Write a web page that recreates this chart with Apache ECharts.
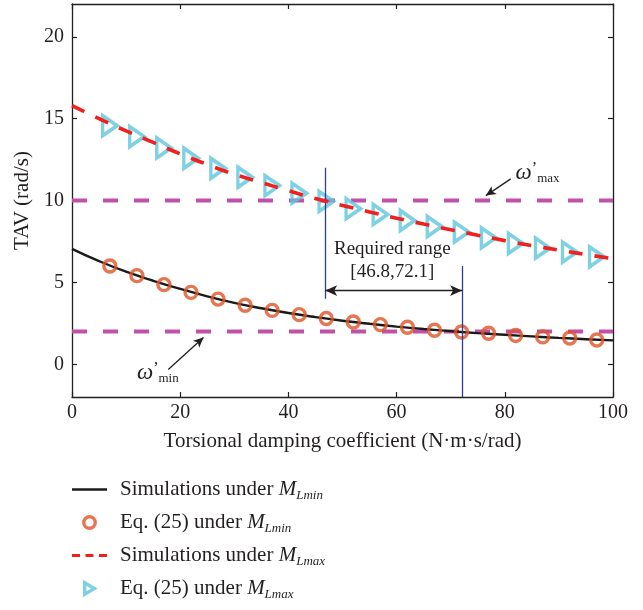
<!DOCTYPE html>
<html>
<head>
<meta charset="utf-8">
<script src="https://cdn.jsdelivr.net/npm/echarts@6/dist/echarts.min.js"></script>
<style>
  html, body { margin: 0; padding: 0; background: #ffffff; }
  #chart { width: 643px; height: 610px; }
</style>
</head>
<body>
<div id="chart"></div>
<script>
// Torsional damping coefficient samples for the simulated curves
const curveK = [0, 5, 10, 15, 20, 25, 30, 35, 40, 45, 50, 55, 60, 65, 70, 75, 80, 85, 90, 95, 100];
// Simulated TAV under M_Lmin (rad/s)
const simMin = [7.05, 6.3, 5.65, 5.1, 4.6, 4.15, 3.75, 3.42, 3.13, 2.88, 2.66, 2.47, 2.3, 2.15, 2.02, 1.9, 1.8, 1.7, 1.61, 1.53, 1.46];
// Simulated TAV under M_Lmax (rad/s)
const simMax = [15.8, 15.0, 14.25, 13.55, 12.85, 12.2, 11.6, 11.1, 10.6, 10.12, 9.7, 9.3, 8.92, 8.56, 8.22, 7.88, 7.55, 7.25, 6.97, 6.7, 6.45];

// Damping coefficients where Eq. (25) is evaluated
const eqK = [7, 12, 17, 22, 27, 32, 37, 42, 47, 52, 57, 62, 67, 72, 77, 82, 87, 92, 97];
const eqMin = [6.0, 5.41, 4.86, 4.39, 3.98, 3.6, 3.29, 3.03, 2.79, 2.58, 2.42, 2.26, 2.08, 1.97, 1.89, 1.76, 1.67, 1.6, 1.48];
const eqMax = [14.57, 13.9, 13.21, 12.58, 11.97, 11.42, 10.91, 10.45, 9.95, 9.5, 9.15, 8.78, 8.41, 8.07, 7.72, 7.38, 7.09, 6.85, 6.56];

// Speed limits and the resulting damping range
const omegaMax = 10;
const omegaMin = 2;
const requiredRange = [46.8, 72.1];

// Axis ticks
const xTicks = [0, 20, 40, 60, 80, 100];
const yTicks = [0, 5, 10, 15, 20];

const FONT = 'Liberation Serif';
const INK = '#231f20';
const C_BLACK = '#1a1a1a';
const C_ORANGE = '#e05426';
const C_RED = '#f0201e';
const C_CYAN = '#5ec5dc';
const C_MAGENTA = '#c050a8';
const C_BLUE = '#2b3c9c';

const pairs = (xs, ys) => xs.map((x, i) => [x, ys[i]]);

const legendNames = {
  simMin: 'Simulations under M_Lmin',
  eqMin: 'Eq. (25) under M_Lmin',
  simMax: 'Simulations under M_Lmax',
  eqMax: 'Eq. (25) under M_Lmax'
};
const legendParts = {
  [legendNames.simMin]: ['Simulations under ', 'Lmin'],
  [legendNames.eqMin]: ['Eq. (25) under ', 'Lmin'],
  [legendNames.simMax]: ['Simulations under ', 'Lmax'],
  [legendNames.eqMax]: ['Eq. (25) under ', 'Lmax']
};

// Right-pointing triangle marker and legend line icons
const triPath = 'path://M0,0L17,10L0,20Z';
const solidIcon = 'path://M0,0H35V2.4H0Z';
const dashIcon = 'path://M0,0H8V3H0Z M13.5,0H21.5V3H13.5Z M27,0H35V3H27Z';
const clear = 'rgba(255,255,255,0)';

const chart = echarts.init(document.getElementById('chart'), null, { renderer: 'canvas' });

const omegaRich = {
  w: { fontFamily: FONT, fontStyle: 'italic', fontSize: 23, lineHeight: 24, color: INK },
  p: { fontFamily: FONT, fontSize: 16, lineHeight: 12, verticalAlign: 'top', color: INK },
  s: { fontFamily: FONT, fontSize: 13, lineHeight: 13, verticalAlign: 'bottom', color: INK }
};

const axisBase = {
  type: 'value',
  axisLine: { show: true, onZero: false, lineStyle: { color: INK, width: 1.3 } },
  axisTick: { show: true, inside: true, length: 5, lineStyle: { color: INK, width: 1.2 } },
  splitLine: { show: false }
};

chart.setOption({
  animation: false,
  backgroundColor: '#ffffff',
  grid: { left: 72, right: 30, top: 4, height: 393, containLabel: false },
  xAxis: [
    Object.assign({}, axisBase, {
      position: 'bottom',
      min: 0, max: 100, interval: 20,
      name: 'Torsional damping coefficient (N·m·s/rad)',
      nameLocation: 'middle',
      nameGap: 34,
      nameTextStyle: { fontFamily: FONT, fontSize: 21, color: INK },
      axisLabel: { show: true, margin: 6, fontFamily: FONT, fontSize: 20, color: INK,
                   customValues: xTicks },
      axisTick: Object.assign({}, axisBase.axisTick, { customValues: xTicks })
    }),
    Object.assign({}, axisBase, {
      position: 'top',
      min: 0, max: 100, interval: 20,
      axisLabel: { show: false }
    })
  ],
  yAxis: [
    Object.assign({}, axisBase, {
      position: 'left',
      min: -2, max: 22,
      name: 'TAV (rad/s)',
      nameLocation: 'middle',
      nameGap: 37,
      nameRotate: 90,
      nameTextStyle: { fontFamily: FONT, fontSize: 21, color: INK },
      axisLabel: { show: true, margin: 8, fontFamily: FONT, fontSize: 20, color: INK,
                   customValues: yTicks },
      axisTick: Object.assign({}, axisBase.axisTick, { customValues: yTicks })
    }),
    Object.assign({}, axisBase, {
      position: 'right',
      min: -2, max: 22,
      axisLabel: { show: false, customValues: yTicks },
      axisTick: Object.assign({}, axisBase.axisTick, { customValues: yTicks })
    })
  ],
  legend: {
    orient: 'vertical',
    left: 72,
    top: 479,
    padding: 0,
    itemWidth: 35,
    itemHeight: 11.5,
    itemGap: 10,
    selectedMode: false,
    symbolKeepAspect: true,
    data: [
      { name: legendNames.simMin, icon: solidIcon, itemStyle: { color: C_BLACK, borderWidth: 0 } },
      { name: legendNames.eqMin, icon: 'circle',
        itemStyle: { color: clear, borderColor: C_ORANGE, borderWidth: 3.4 } },
      { name: legendNames.simMax, icon: dashIcon, itemStyle: { color: C_RED, borderWidth: 0 } },
      { name: legendNames.eqMax, icon: triPath,
        itemStyle: { color: clear, borderColor: C_CYAN, borderWidth: 3.4 } }
    ],
    formatter: (name) => {
      const [lead, sub] = legendParts[name];
      return `{t|${lead}}{m|M}{s|${sub}}`;
    },
    textStyle: {
      rich: {
        t: { fontFamily: FONT, fontSize: 21, lineHeight: 25, color: INK, padding: [0, 0, 0, 8] },
        m: { fontFamily: FONT, fontStyle: 'italic', fontSize: 21, lineHeight: 25, color: INK },
        s: { fontFamily: FONT, fontStyle: 'italic', fontSize: 13, lineHeight: 12, verticalAlign: 'bottom', color: INK }
      }
    }
  },
  series: [
    // Speed limit lines
    {
      type: 'line', name: 'omegaMax', silent: true, symbol: 'none', z: 1,
      data: [[0, omegaMax], [100, omegaMax]],
      lineStyle: { color: C_MAGENTA, width: 4, type: [15, 16] }
    },
    {
      type: 'line', name: 'omegaMin', silent: true, symbol: 'none', z: 1,
      data: [[0, omegaMin], [100, omegaMin]],
      lineStyle: { color: C_MAGENTA, width: 4, type: [15, 16] }
    },
    // Bounds of the required damping range
    {
      type: 'line', name: 'rangeBounds', silent: true, symbol: 'none', z: 2,
      data: [],
      markLine: {
        silent: true, symbol: ['none', 'none'], label: { show: false },
        lineStyle: { color: C_BLUE, width: 1.3, type: 'solid' },
        data: [
          [{ coord: [requiredRange[0], 4] }, { coord: [requiredRange[0], 12] }],
          [{ coord: [requiredRange[1], -2] }, { coord: [requiredRange[1], 6] }]
        ]
      }
    },
    {
      type: 'line', name: legendNames.simMin, symbol: 'none', smooth: true, z: 3,
      data: pairs(curveK, simMin),
      lineStyle: { color: C_BLACK, width: 2.4, type: 'solid' },
      itemStyle: { color: C_BLACK }
    },
    {
      type: 'scatter', name: legendNames.eqMin, symbol: 'circle', symbolSize: 12, z: 4,
      data: pairs(eqK, eqMin),
      itemStyle: { color: clear, borderColor: C_ORANGE, borderWidth: 3.4 }
    },
    {
      type: 'scatter', name: legendNames.eqMax, symbol: triPath, symbolSize: [17, 20], symbolKeepAspect: true, z: 4,
      data: pairs(eqK, eqMax),
      itemStyle: { color: clear, borderColor: C_CYAN, borderWidth: 3.6 }
    },
    {
      type: 'line', name: legendNames.simMax, symbol: 'none', smooth: true, z: 5,
      data: pairs(curveK, simMax),
      lineStyle: { color: C_RED, width: 3.6, type: [14, 12] },
      itemStyle: { color: C_RED }
    },
    // Annotations: range arrow, texts and pointers
    {
      type: 'line', name: 'annotations', silent: true, symbol: 'none', z: 6,
      data: [],
      markLine: {
        silent: true, label: { show: false },
        symbol: ['arrow', 'arrow'], symbolSize: [8, 12],
        lineStyle: { color: INK, width: 1.4, type: 'solid' },
        data: [
          [{ coord: [requiredRange[0], 4.5] }, { coord: [requiredRange[1], 4.5] }]
        ]
      },
      markPoint: {
        silent: true,
        symbol: 'circle', symbolSize: 0,
        data: [
          {
            coord: [59.2, 6.34],
            label: {
              show: true, position: 'inside',
              formatter: 'Required range\n[' + requiredRange[0] + ',' + requiredRange[1] + ']',
              fontFamily: FONT, fontSize: 19, lineHeight: 23.5, color: INK, align: 'center'
            }
          },
          {
            coord: [82.0, 11.7],
            label: {
              show: true, position: 'right', distance: 0,
              formatter: '{w|ω}{p|’}{s|max}', rich: omegaRich
            }
          },
          {
            coord: [12.0, -0.55],
            label: {
              show: true, position: 'right', distance: 0,
              formatter: '{w|ω}{p|’}{s|min}', rich: omegaRich
            }
          }
        ]
      }
    },
    {
      type: 'line', name: 'pointers', silent: true, symbol: 'none', z: 6,
      data: [],
      markLine: {
        silent: true, label: { show: false },
        symbol: ['none', 'arrow'], symbolSize: [7, 10],
        lineStyle: { color: INK, width: 1.3, type: 'solid' },
        data: [
          [{ coord: [81.1, 11.32] }, { coord: [76.5, 10.3] }],
          [{ coord: [17.8, -0.32] }, { coord: [24.3, 1.63] }]
        ]
      }
    }
  ]
});
</script>
</body>
</html>
